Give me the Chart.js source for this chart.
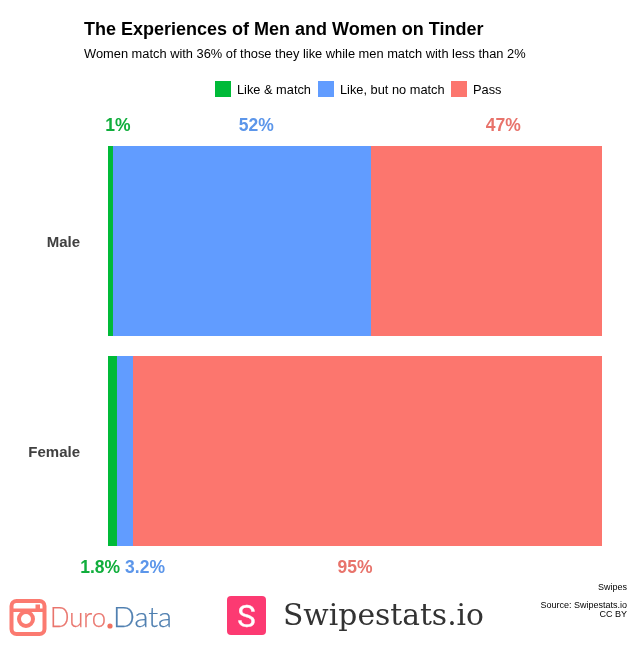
<!DOCTYPE html>
<html>
<head>
<meta charset="utf-8">
<title>The Experiences of Men and Women on Tinder</title>
<script src="https://cdn.jsdelivr.net/npm/chart.js@4"></script>
<style>
  html, body { margin: 0; padding: 0; background: #fff; }
  body { position: relative; width: 636px; height: 645px; overflow: hidden; font-family: "Liberation Sans", Arial, sans-serif; color: #000; }
  #chart { position: absolute; left: 0; top: 0; }
  .abs { position: absolute; white-space: nowrap; }
  #title { left: 84px; top: 19px; font-size: 18px; font-weight: bold; }
  #subtitle { left: 84px; top: 46px; font-size: 12.85px; }
  .swatch { position: absolute; top: 81px; width: 16px; height: 16px; }
  .key { position: absolute; top: 82px; font-size: 12.8px; white-space: nowrap; }
  .note { position: absolute; right: 9px; font-size: 9px; white-space: nowrap; }
  #logos { position: absolute; left: 0; top: 590px; }
</style>
</head>
<body>
<canvas id="chart" width="636" height="645"></canvas>
<div class="abs" id="title">The Experiences of Men and Women on Tinder</div>
<div class="abs" id="subtitle">Women match with 36% of those they like while men match with less than 2%</div>
<div id="legend"></div>
<div class="note" style="top:582px">Swipes</div>
<div class="note" style="top:600px">Source: Swipestats.io</div>
<div class="note" style="top:609px">CC BY</div>
<svg id="logos" width="520" height="50" viewBox="0 0 520 50">
  <rect x="11.5" y="11" width="33" height="33" rx="5" fill="none" stroke="#fb7a70" stroke-width="4"/>
  <rect x="10" y="18.5" width="36" height="3.5" fill="#fb7a70"/>
  <circle cx="26" cy="29" r="7" fill="#fff" stroke="#fb7a70" stroke-width="4"/>
  <rect x="35.5" y="14.5" width="4.5" height="4.5" fill="#fb7a70"/>
  <text x="50" y="37" font-family="Lato, 'Open Sans', sans-serif" font-weight="300" font-size="27" fill="#e9756d" stroke="#e9756d" stroke-width="0.25" textLength="56" lengthAdjust="spacingAndGlyphs">Duro</text>
  <circle cx="110" cy="36" r="2.6" fill="#f0705f"/>
  <text x="113" y="37" font-family="Lato, 'Open Sans', sans-serif" font-weight="300" font-size="27" fill="#4f7fb0" stroke="#4f7fb0" stroke-width="0.25" textLength="59" lengthAdjust="spacingAndGlyphs">Data</text>
  <rect x="227" y="6" width="39" height="39" rx="4" fill="#fc3a72"/>
  <text x="246.5" y="37" text-anchor="middle" font-family="Roboto, sans-serif" font-size="31" fill="#fff" stroke="#fff" stroke-width="0.3">S</text>
  <text x="283" y="35" font-family="'DejaVu Serif', serif" font-size="30" fill="#333" textLength="201" lengthAdjust="spacingAndGlyphs">Swipestats.io</text>
</svg>
<script>
// values, percent of swipes
const categories = ["Male", "Female"];
const seriesNames = ["Like & match", "Like, but no match", "Pass"];
const likeMatch = [1.01, 1.82];
const likeNoMatch = [52.23, 3.24];
const pass = [46.76, 94.94];
const seriesColors = ["#00BA38", "#619CFF", "#FC766E"];
const labelColors = ["#10AE3C", "#5C96EA", "#E8736B"];

const maleLabels = ["1%", "52%", "47%"];
const femaleLabels = ["1.8%", "3.2%", "95%"];

// where the percent labels sit on the value axis
const maleLabelAt = [2, 30, 80];
const femaleLabelAt = [-1.6, 7.5, 50];

// legend is html so it can sit off-centre like the original
const legend = document.getElementById("legend");
const legendX = [[215, 237], [318, 340], [451, 473]];
seriesNames.forEach((name, i) => {
  const swatch = document.createElement("div");
  swatch.className = "swatch";
  swatch.style.left = legendX[i][0] + "px";
  swatch.style.background = seriesColors[i];
  legend.appendChild(swatch);
  const key = document.createElement("div");
  key.className = "key";
  key.style.left = legendX[i][1] + "px";
  key.innerText = name;
  legend.appendChild(key);
});

const percentLabels = {
  id: "percentLabels",
  afterDraw(chart) {
    const ctx = chart.ctx;
    const x = chart.scales.x;
    ctx.save();
    ctx.font = 'bold 17.5px "Liberation Sans", Arial, sans-serif';
    ctx.textAlign = "center";
    ctx.textBaseline = "middle";
    for (let i = 0; i < 3; i++) {
      ctx.fillStyle = labelColors[i];
      ctx.fillText(maleLabels[i], x.getPixelForValue(maleLabelAt[i]), 126.5);
      ctx.fillText(femaleLabels[i], x.getPixelForValue(femaleLabelAt[i]), 568);
    }
    ctx.restore();
  },
};

new Chart(document.getElementById("chart"), {
  type: "bar",
  plugins: [percentLabels],
  data: {
    labels: categories,
    datasets: [likeMatch, likeNoMatch, pass].map((values, i) => ({
      label: seriesNames[i],
      data: values,
      backgroundColor: seriesColors[i],
      borderWidth: 0,
      categoryPercentage: 1,
      barPercentage: 0.905,
    })),
  },
  options: {
    indexAxis: "y",
    responsive: false,
    animation: false,
    layout: { padding: { top: 136, right: 34, bottom: 89, left: 0 } },
    plugins: {
      legend: { display: false },
      title: { display: false },
      tooltip: { enabled: false },
    },
    scales: {
      x: { stacked: true, display: false, min: 0, max: 100 },
      y: {
        stacked: true,
        border: { display: false },
        grid: { display: false, drawTicks: false },
        ticks: {
          padding: 28,
          labelOffset: 1.5,
          color: "#404040",
          font: { family: '"Liberation Sans", Arial, sans-serif', size: 15, weight: "bold" },
        },
        afterFit(axis) {
          axis.width = 108;
        },
      },
    },
  },
});
</script>
</body>
</html>
